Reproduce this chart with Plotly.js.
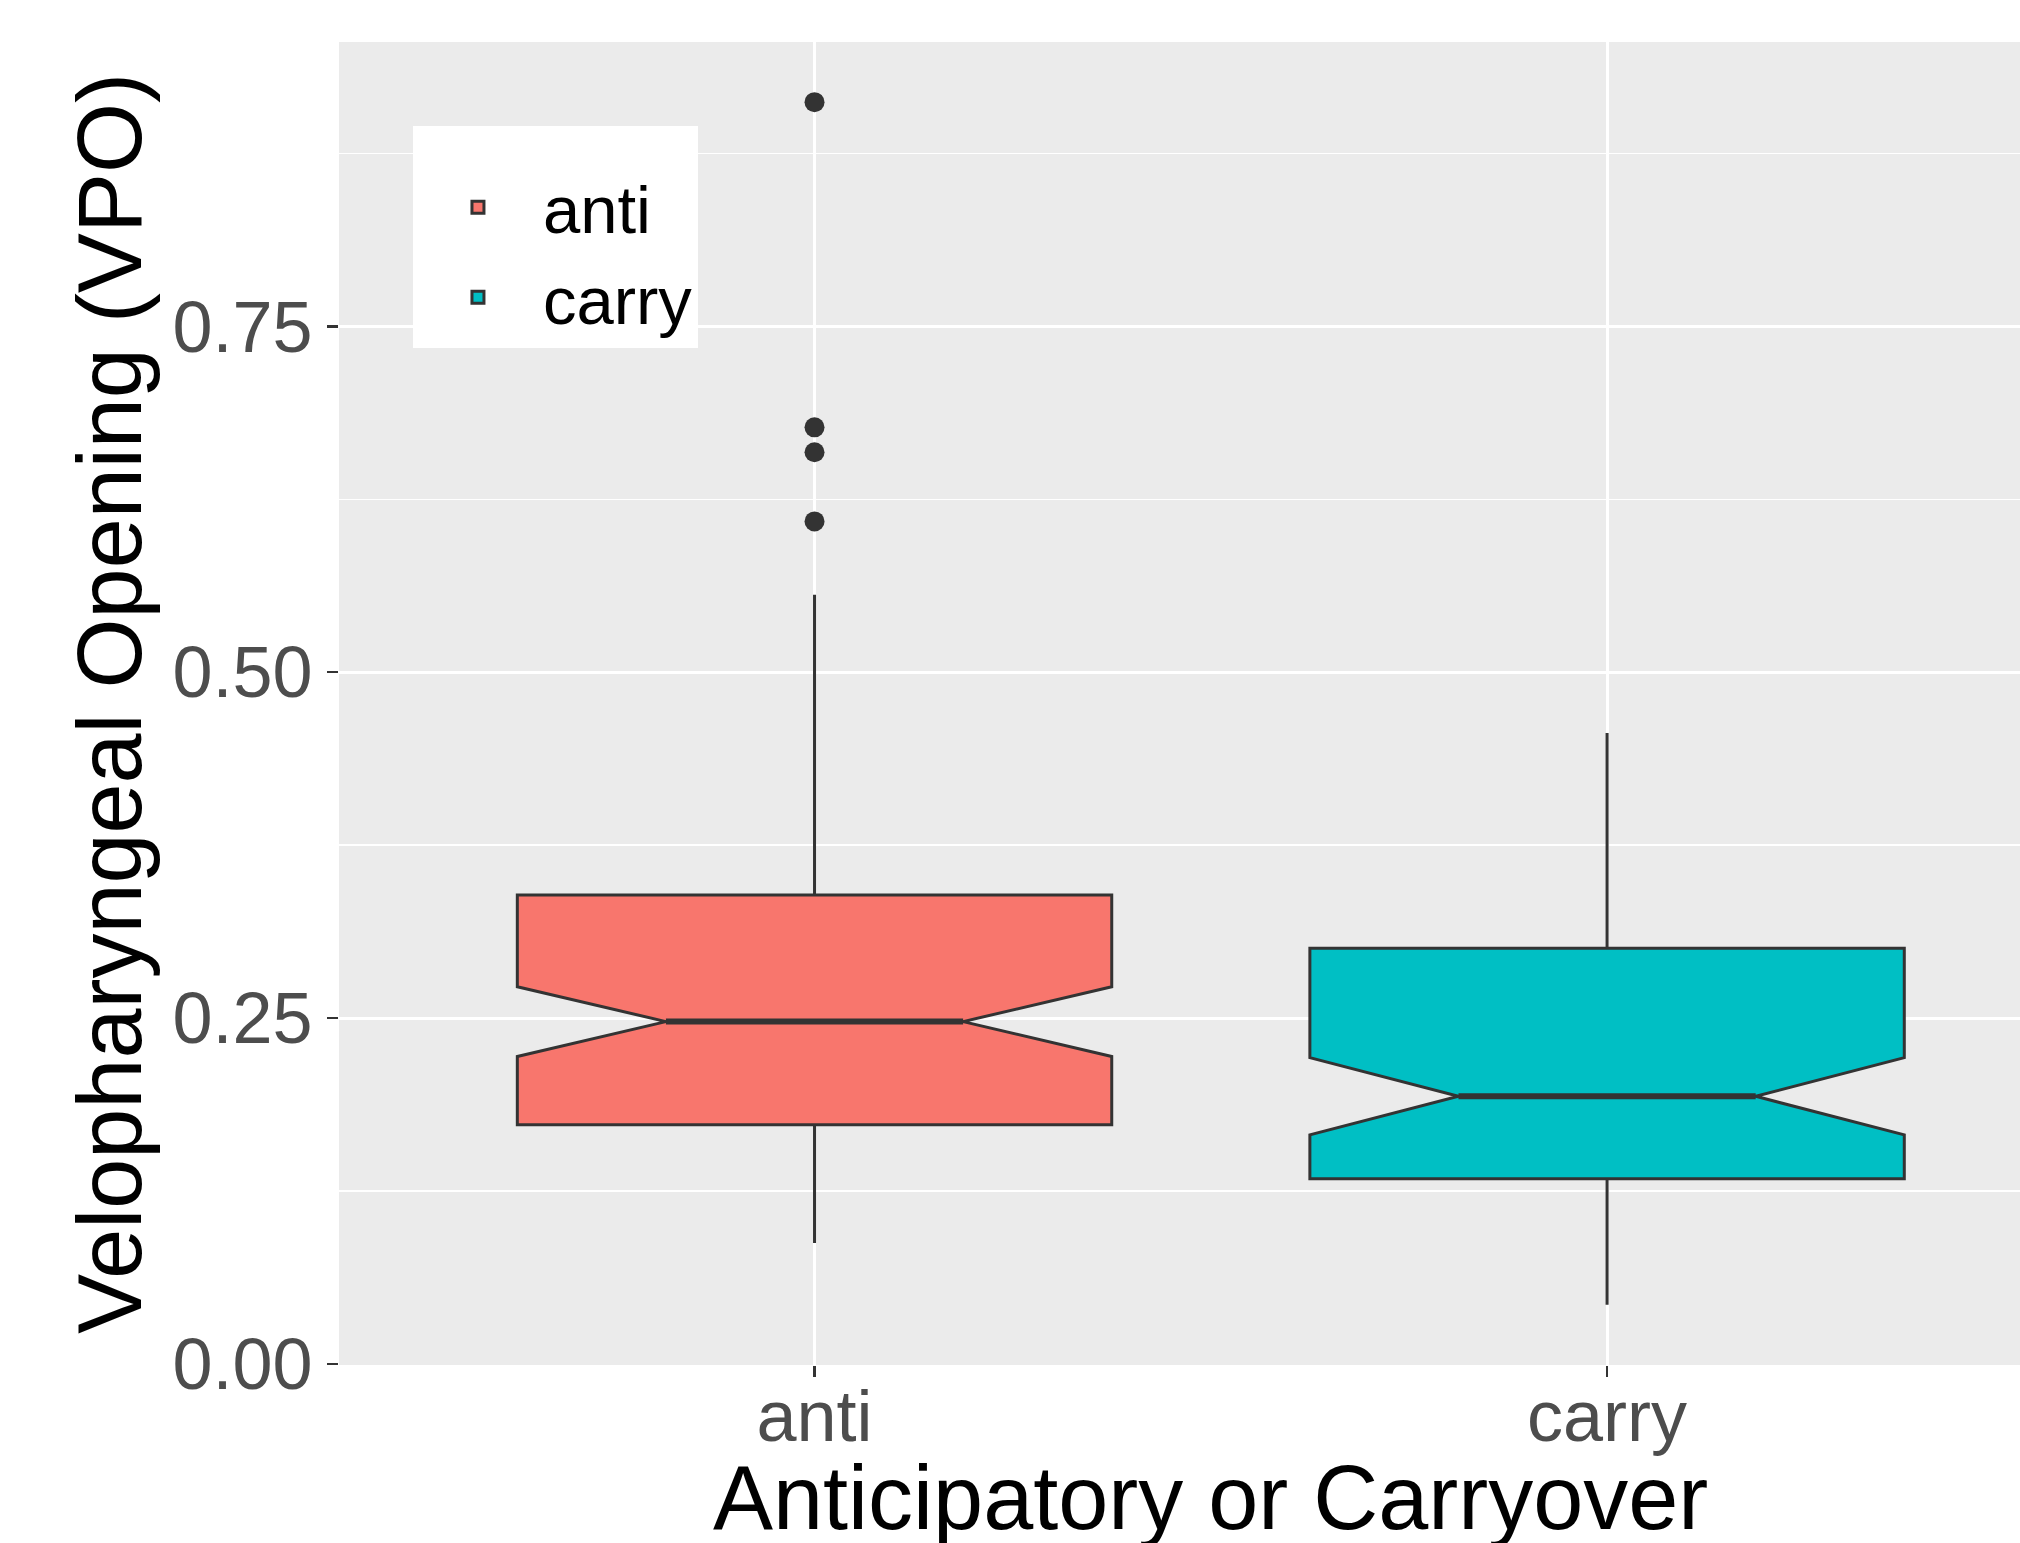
<!DOCTYPE html>
<html>
<head>
<meta charset="utf-8">
<script src="https://cdn.plot.ly/plotly-3.0.1.min.js"></script>
<style>html,body{margin:0;padding:0;background:#fff;}#chart{width:2020px;height:1543px;}</style>
</head>
<body>
<div id="chart"></div>
<script>
// Data
const categories = ["anti", "carry"];
const q1Vals = [0.173, 0.134];
const medianVals = [0.2475, 0.1935];
const q3Vals = [0.339, 0.3005];
const lowerWhisker = [0.0875, 0.0428];
const upperWhisker = [0.556, 0.456];
const notchSpans = [0.0252, 0.0279];
const outlierCats = ["anti", "anti", "anti", "anti"];
const outlierVals = [0.912, 0.677, 0.659, 0.609];
const fillColors = ["#F8766D", "#00BFC4"];
const yTickVals = [0, 0.25, 0.5, 0.75];
const yTickText = ["0.00", "0.25", "0.50", "0.75"];
const xTitle = "Anticipatory or Carryover";
const yTitle = "Velopharyngeal Opening (VPO)";

const lineCol = "#333333";
const traces = [];
categories.forEach((c, i) => {
  traces.push({
    type: "box",
    name: c,
    x: [c],
    q1: [q1Vals[i]],
    median: [medianVals[i]],
    q3: [q3Vals[i]],
    lowerfence: [lowerWhisker[i]],
    upperfence: [upperWhisker[i]],
    notched: true,
    notchspan: [notchSpans[i]],
    notchwidth: 0.25,
    width: 0.75,
    whiskerwidth: 0,
    fillcolor: fillColors[i],
    line: {color: lineCol, width: 3},
    boxpoints: false,
    hoverinfo: "skip"
  });
});
// thicker median segment (ggplot fatten)
categories.forEach((c, i) => {
  traces.push({
    type: "box",
    x: [c],
    q1: [medianVals[i]],
    median: [medianVals[i]],
    q3: [medianVals[i]],
    lowerfence: [medianVals[i]],
    upperfence: [medianVals[i]],
    width: 0.375,
    whiskerwidth: 0,
    fillcolor: "rgba(0,0,0,0)",
    line: {color: lineCol, width: 6},
    boxpoints: false,
    showlegend: false,
    hoverinfo: "skip"
  });
});
traces.push({
  type: "scatter",
  mode: "markers",
  x: outlierCats,
  y: outlierVals,
  marker: {color: lineCol, size: 20},
  showlegend: false,
  hoverinfo: "skip"
});

const layout = {
  width: 2020,
  height: 1543,
  paper_bgcolor: "#ffffff",
  plot_bgcolor: "#EBEBEB",
  margin: {l: 339, r: 0, t: 42, b: 178, pad: 0},
  font: {family: "Liberation Sans, Arial, sans-serif", color: "#000"},
  boxmode: "overlay",
  showlegend: true,
  legend: {
    x: 0.044, y: 0.9365, xanchor: "left", yanchor: "top",
    bgcolor: "#ffffff", borderwidth: 0,
    font: {size: 67, color: "#000"},
    itemwidth: 120,
    title: {text: "&nbsp;", font: {size: 24, color: "#ffffff"}},
    tracegroupgap: 0
  },
  xaxis: {
    type: "category",
    categoryorder: "array",
    categoryarray: categories,
    range: [-0.6, 1.521],
    showgrid: true, gridcolor: "#ffffff", gridwidth: 3,
    zeroline: false, showline: false,
    ticks: "outside", ticklen: 11, tickwidth: 2.5, tickcolor: lineCol,
    ticklabelstandoff: -22,
    tickfont: {size: 72, color: "#4D4D4D"},
    automargin: false
  },
  yaxis: {
    range: [-0.0007, 0.9555],
    tickvals: yTickVals,
    ticktext: yTickText,
    showgrid: true, gridcolor: "#ffffff", gridwidth: 3,
    minor: {dtick: 0.125, tick0: 0, showgrid: true, gridcolor: "#ffffff", gridwidth: 1.4, ticks: ""},
    zeroline: false, showline: false,
    ticks: "outside", ticklen: 11, tickwidth: 2.5, tickcolor: lineCol,
    tickfont: {size: 72, color: "#4D4D4D"},
    title: {text: yTitle, font: {size: 90, color: "#000"}, standoff: 0},
    automargin: false
  },
  annotations: [{
    text: xTitle,
    xref: "x", x: 0.5,
    yref: "paper", y: -0.1005,
    xanchor: "center", yanchor: "middle",
    showarrow: false,
    font: {size: 90, color: "#000"}
  }]
};

Plotly.newPlot("chart", traces, layout, {displayModeBar: false, staticPlot: true});
</script>
</body>
</html>
